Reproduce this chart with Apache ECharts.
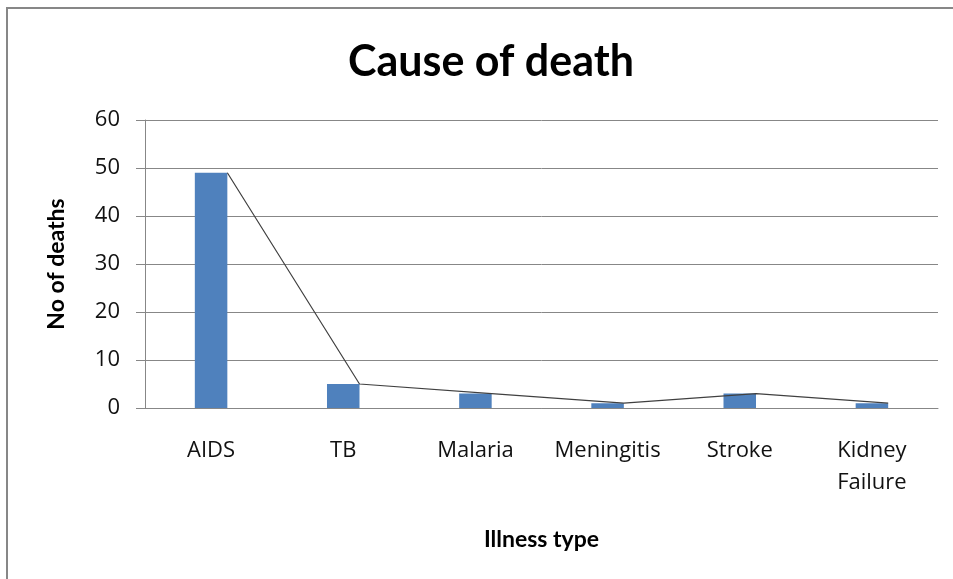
<!DOCTYPE html>
<html>
<head>
<meta charset="utf-8">
<script src="https://cdn.jsdelivr.net/npm/echarts@6/dist/echarts.min.js"></script>
<style>
html,body{margin:0;padding:0;background:#fff;}
#chart{width:953px;height:579px;}
</style>
</head>
<body>
<div id="chart"></div>
<script>
var categories = ['AIDS', 'TB', 'Malaria', 'Meningitis', 'Stroke', 'Kidney\nFailure'];
var deaths = [49, 5, 3, 1, 3, 1];
var yTicks = [0, 10, 20, 30, 40, 50, 60];

var BAR_FRACTION = 0.246;
var FONT = 'Lato, "Open Sans", sans-serif';
var LABEL_FONT = '"Open Sans", Lato, sans-serif';

var linePoints = deaths.map(function (v, i) { return [i + BAR_FRACTION / 2, v]; });

var chart = echarts.init(document.getElementById('chart'));
chart.setOption({
  animation: false,
  backgroundColor: '#ffffff',
  graphic: [{
    type: 'rect',
    shape: { x: 7, y: 8, width: 960, height: 600 },
    style: { fill: 'none', stroke: '#878787', lineWidth: 2 },
    silent: true
  }],
  title: {
    text: 'Cause of death',
    left: 343,
    top: 36,
    textStyle: { fontFamily: FONT, fontWeight: 'bold', fontSize: 43, color: '#000' }
  },
  grid: { left: 145, right: 15, top: 120, bottom: 171 },
  xAxis: [{
    type: 'category',
    data: categories,
    boundaryGap: true,
    axisLine: { lineStyle: { color: '#878787', width: 1 } },
    axisTick: { show: false },
    axisLabel: {
      fontFamily: LABEL_FONT, fontSize: 22, color: '#111', margin: 27, lineHeight: 32, interval: 0
    },
    name: 'Illness type',
    nameLocation: 'middle',
    nameGap: 120,
    nameTextStyle: { fontFamily: FONT, fontWeight: 'bold', fontSize: 23, color: '#000' }
  }, {
    type: 'value',
    min: -0.5,
    max: 5.5,
    show: false
  }],
  yAxis: {
    type: 'value',
    min: yTicks[0],
    max: yTicks[yTicks.length - 1],
    interval: 10,
    axisLine: { show: true, onZero: false, lineStyle: { color: '#878787', width: 1 } },
    axisTick: { show: true, length: 9, lineStyle: { color: '#878787' } },
    splitLine: { lineStyle: { color: '#878787', width: 1 } },
    axisLabel: { fontFamily: LABEL_FONT, fontSize: 22, color: '#111', margin: 25 },
    name: 'No of deaths',
    nameLocation: 'middle',
    nameGap: 77,
    nameTextStyle: { fontFamily: FONT, fontWeight: 'bold', fontSize: 23, color: '#000' }
  },
  series: [{
    type: 'bar',
    data: deaths,
    barWidth: (BAR_FRACTION * 100) + '%',
    itemStyle: { color: '#4F81BD' }
  }, {
    type: 'line',
    xAxisIndex: 1,
    data: linePoints,
    showSymbol: false,
    symbol: 'none',
    lineStyle: { color: '#404040', width: 1.2 },
    z: 3
  }]
});
</script>
</body>
</html>
